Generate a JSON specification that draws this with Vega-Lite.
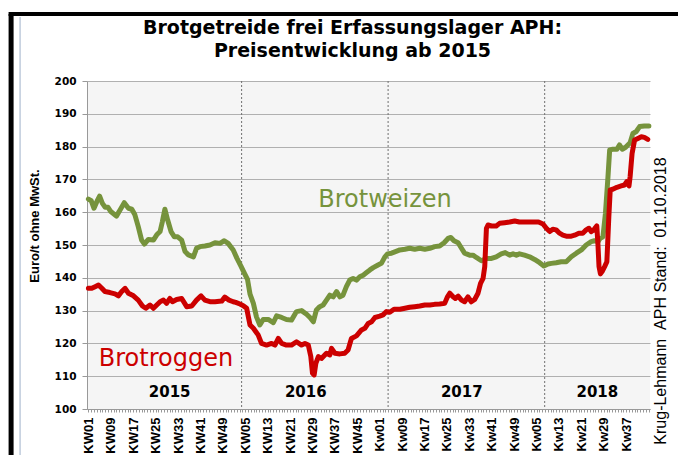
{
"$schema": "https://vega.github.io/schema/vega-lite/v6.json",
"width": 563, "height": 328,
"autosize": {"type": "none"},
"padding": {"left": 87, "top": 81, "right": 28, "bottom": 46},
"background": "#ffffff",
"config": {"view": {"fill": "#f5f5f5", "stroke": null}},
"title": {"text": ["Brotgetreide frei Erfassungslager APH:", "Preisentwicklung ab 2015"], "font": "DejaVu Sans", "fontSize": 19, "fontWeight": "bold", "color": "#000000", "anchor": "middle", "frame": "group", "offset": -49, "lineHeight": 23, "dx": -16},
"datasets": {
"weizen": [{"t":0,"p":164},{"t":1,"p":163.5},{"t":2,"p":161.2},{"t":3,"p":163.2},{"t":4,"p":164.9},{"t":5,"p":162.7},{"t":6,"p":161.5},{"t":7,"p":161.5},{"t":8,"p":160.2},{"t":10,"p":158.8},{"t":11.3,"p":160.7},{"t":12.8,"p":162.9},{"t":14.3,"p":161.2},{"t":15.5,"p":160.9},{"t":16.6,"p":159.2},{"t":17.8,"p":155.6},{"t":19,"p":151.5},{"t":20,"p":150.3},{"t":21.4,"p":151.7},{"t":23.2,"p":151.5},{"t":24.4,"p":153.1},{"t":25.6,"p":154.1},{"t":26.4,"p":157.1},{"t":27.3,"p":160.9},{"t":28.3,"p":157.6},{"t":29.5,"p":154.1},{"t":30.7,"p":152.5},{"t":31.9,"p":152.5},{"t":33.3,"p":151.5},{"t":34.5,"p":148},{"t":35.7,"p":147},{"t":37.5,"p":146.4},{"t":38.6,"p":149},{"t":39.8,"p":149.5},{"t":41.6,"p":149.7},{"t":43.4,"p":150},{"t":45.2,"p":150.7},{"t":47,"p":150.5},{"t":48.5,"p":151.3},{"t":49.9,"p":150.5},{"t":51.7,"p":148.5},{"t":53,"p":146},{"t":54.5,"p":143.5},{"t":55.8,"p":141.2},{"t":56.8,"p":139.5},{"t":57.7,"p":135},{"t":58.9,"p":132.2},{"t":60,"p":128.1},{"t":61.2,"p":125.6},{"t":62.4,"p":127.3},{"t":64.2,"p":127.3},{"t":66,"p":126.3},{"t":67.2,"p":128.4},{"t":69,"p":127.9},{"t":70.7,"p":127.3},{"t":72.5,"p":127.1},{"t":74.3,"p":129.7},{"t":76.1,"p":130},{"t":77.9,"p":128.9},{"t":79.1,"p":127.9},{"t":80.3,"p":126.6},{"t":81.4,"p":130.2},{"t":82.6,"p":131.2},{"t":83.8,"p":131.7},{"t":85,"p":133.2},{"t":86.2,"p":134.7},{"t":87.4,"p":134.2},{"t":88.6,"p":135.8},{"t":89.8,"p":134.2},{"t":90.9,"p":134.7},{"t":92.1,"p":137.3},{"t":93.3,"p":139.3},{"t":94.5,"p":139.8},{"t":95.7,"p":139.3},{"t":96.9,"p":140.3},{"t":98.1,"p":140.8},{"t":99.3,"p":141.6},{"t":100.5,"p":142.4},{"t":101.7,"p":143.1},{"t":103.4,"p":143.9},{"t":104.6,"p":144.4},{"t":105.8,"p":146.3},{"t":106.8,"p":147.3},{"t":108.2,"p":147.5},{"t":109.4,"p":147.9},{"t":111.2,"p":148.5},{"t":113,"p":148.7},{"t":114.7,"p":149},{"t":116.5,"p":148.7},{"t":118.3,"p":149},{"t":120.1,"p":148.7},{"t":121.9,"p":149},{"t":123.6,"p":149.5},{"t":125.4,"p":149.7},{"t":127,"p":150.7},{"t":128.4,"p":152},{"t":129.4,"p":152.3},{"t":130.5,"p":151.3},{"t":132,"p":150.7},{"t":133.2,"p":149},{"t":134.3,"p":147.5},{"t":136.1,"p":146.9},{"t":137.3,"p":146.9},{"t":138.5,"p":146.2},{"t":140.3,"p":145.2},{"t":142.1,"p":145.9},{"t":143.9,"p":145.9},{"t":145.6,"p":146.4},{"t":147.4,"p":147.3},{"t":148.8,"p":147.7},{"t":150.4,"p":146.9},{"t":151.6,"p":147.3},{"t":152.8,"p":146.9},{"t":153.9,"p":147.3},{"t":155.7,"p":146.9},{"t":157.5,"p":146.4},{"t":159.3,"p":145.6},{"t":161.1,"p":144.6},{"t":162.6,"p":143.6},{"t":164.1,"p":144.2},{"t":165.3,"p":144.4},{"t":167,"p":144.6},{"t":168.8,"p":144.9},{"t":170.6,"p":144.9},{"t":172.4,"p":146.4},{"t":174.2,"p":147.5},{"t":176,"p":148.5},{"t":177.7,"p":150},{"t":179.5,"p":151},{"t":180.7,"p":151.3},{"t":181.9,"p":151},{"t":182.7,"p":152},{"t":183.7,"p":152.5},{"t":184.6,"p":159.7},{"t":185.5,"p":170.8},{"t":186.1,"p":179},{"t":187.2,"p":179.2},{"t":188.7,"p":179.2},{"t":189.6,"p":180.5},{"t":190.6,"p":179.2},{"t":191.8,"p":179.8},{"t":192.6,"p":180.5},{"t":193.4,"p":181.2},{"t":194.4,"p":184},{"t":195.6,"p":184.6},{"t":196.8,"p":186.1},{"t":198.5,"p":186.3},{"t":200.1,"p":186.3}],
"roggen": [{"t":0,"p":136.8},{"t":1.2,"p":136.8},{"t":2.4,"p":137.3},{"t":3.6,"p":137.8},{"t":4.8,"p":136.8},{"t":5.9,"p":135.8},{"t":7.7,"p":135.5},{"t":9.5,"p":135.1},{"t":10.7,"p":134.5},{"t":11.9,"p":135.8},{"t":13.1,"p":136.8},{"t":14.3,"p":135.3},{"t":16.1,"p":134.5},{"t":17.8,"p":133.2},{"t":19.3,"p":131.4},{"t":20.5,"p":130.7},{"t":22,"p":131.7},{"t":23.2,"p":130.7},{"t":24.4,"p":131.7},{"t":25.6,"p":132.7},{"t":26.8,"p":133.2},{"t":27.9,"p":132.2},{"t":29.1,"p":133.7},{"t":30,"p":132.7},{"t":31.5,"p":133.4},{"t":33.3,"p":133.7},{"t":35.1,"p":131.2},{"t":36.9,"p":131.4},{"t":38.6,"p":133.2},{"t":40.2,"p":134.5},{"t":41.6,"p":133.2},{"t":43.4,"p":132.7},{"t":45.2,"p":132.7},{"t":47.6,"p":132.9},{"t":48.7,"p":134.1},{"t":50.2,"p":133.2},{"t":51.7,"p":132.7},{"t":52.6,"p":132.5},{"t":54.1,"p":132},{"t":55.3,"p":131.5},{"t":56.5,"p":130.7},{"t":57.1,"p":128.1},{"t":57.7,"p":125.6},{"t":58.9,"p":124.6},{"t":60.6,"p":122.6},{"t":61.8,"p":120},{"t":63.6,"p":119.5},{"t":65.4,"p":120},{"t":66.6,"p":119.5},{"t":67.8,"p":121.5},{"t":69,"p":120},{"t":70.7,"p":119.5},{"t":72.5,"p":119.5},{"t":74.3,"p":120.5},{"t":76.1,"p":119.5},{"t":77.3,"p":120},{"t":78.5,"p":119.5},{"t":79.4,"p":116},{"t":80,"p":110.9},{"t":80.6,"p":110.4},{"t":81.2,"p":113.9},{"t":82.1,"p":116},{"t":83.2,"p":115.4},{"t":85,"p":117},{"t":86.2,"p":116.5},{"t":86.8,"p":118.5},{"t":88,"p":117},{"t":89.8,"p":116.8},{"t":91.5,"p":117},{"t":92.7,"p":118},{"t":93.9,"p":121.5},{"t":95.7,"p":122.3},{"t":97.5,"p":124.1},{"t":98.7,"p":124.6},{"t":99.9,"p":126.1},{"t":101.1,"p":126.6},{"t":102.3,"p":127.9},{"t":104,"p":128.3},{"t":105.2,"p":128.7},{"t":106.4,"p":129.7},{"t":107.6,"p":129.5},{"t":109.1,"p":130.4},{"t":111.2,"p":130.4},{"t":113,"p":130.7},{"t":114.7,"p":131},{"t":116.5,"p":131.2},{"t":118.3,"p":131.4},{"t":120.1,"p":131.7},{"t":121.9,"p":131.7},{"t":123.6,"p":131.9},{"t":125.4,"p":132},{"t":127.2,"p":132.2},{"t":128.2,"p":134.2},{"t":129,"p":135.3},{"t":130.2,"p":134.2},{"t":131,"p":133.7},{"t":132,"p":134.4},{"t":133.2,"p":133.2},{"t":134.3,"p":132.7},{"t":135.5,"p":134.2},{"t":136.7,"p":132.7},{"t":137.9,"p":133.4},{"t":139.1,"p":135.3},{"t":140,"p":138.3},{"t":140.9,"p":139.8},{"t":141.5,"p":143.4},{"t":142.1,"p":155.1},{"t":142.7,"p":156.1},{"t":143.9,"p":155.8},{"t":145.6,"p":155.8},{"t":146.8,"p":156.6},{"t":148.6,"p":156.8},{"t":150.4,"p":157},{"t":152.2,"p":157.3},{"t":153.9,"p":157},{"t":155.7,"p":157},{"t":157.5,"p":157},{"t":159.3,"p":157},{"t":160.7,"p":157},{"t":162.3,"p":156.4},{"t":163.5,"p":155.1},{"t":164.7,"p":154.1},{"t":165.8,"p":154.8},{"t":167,"p":154.6},{"t":168.2,"p":153.6},{"t":169.4,"p":153},{"t":170.6,"p":152.7},{"t":172.4,"p":152.7},{"t":173.6,"p":153},{"t":175.1,"p":153.6},{"t":176.5,"p":153.6},{"t":177.7,"p":154.6},{"t":178.7,"p":155.1},{"t":179.5,"p":154.1},{"t":180.4,"p":154.6},{"t":181.1,"p":155.4},{"t":181.5,"p":155.8},{"t":181.9,"p":150.5},{"t":182.3,"p":143.4},{"t":182.8,"p":141.2},{"t":183.4,"p":141.9},{"t":184.3,"p":143.4},{"t":185.1,"p":144.9},{"t":185.8,"p":158.6},{"t":186.3,"p":166.8},{"t":187.2,"p":167},{"t":188.7,"p":167.6},{"t":190.2,"p":168},{"t":191.4,"p":168.3},{"t":192.2,"p":169.3},{"t":193,"p":168},{"t":193.4,"p":170.8},{"t":194.1,"p":177.9},{"t":195,"p":182},{"t":196.2,"p":182.5},{"t":197.4,"p":183},{"t":198.5,"p":182.8},{"t":199.7,"p":182.2}],
"grenzen": [{"t":54.7},{"t":107},{"t":162.9}],
"jahre": [{"t":29,"jahr":"2015"},{"t":77.6,"jahr":"2016"},{"t":133.3,"jahr":"2017"},{"t":181.7,"jahr":"2018"}],
"sorten": [{"s":"Brotweizen","t":105.9,"p":161.6},{"s":"Brotroggen","t":27.7,"p":113.1}],
"rahmen": [{}]
},
"layer": [
{"data": {"name": "grenzen"}, "mark": {"type": "rule", "color": "#707070", "strokeWidth": 1, "strokeDash": [2, 2]},
 "encoding": {"x": {"field": "t", "type": "quantitative"}}},
{"data": {"name": "weizen"}, "mark": {"type": "line", "color": "#76933c", "strokeWidth": 5, "strokeJoin": "round", "strokeCap": "round"},
 "encoding": {
  "x": {"field": "t", "type": "quantitative", "scale": {"domain": [-0.5, 200.5], "nice": false, "zero": false},
   "axis": {"title": null, "grid": false, "tickCount": 201, "labelOverlap": false, "labelFlush": false, "labelBound": false,
    "labelExpr": "datum.value % 8 == 0 && datum.value <= 192 ? (datum.value < 104 ? 'KW' : 'Kw') + ((datum.value % 52) + 1 < 10 ? '0' : '') + ((datum.value % 52) + 1) : ''",
    "labelAngle": -90, "labelFont": "Liberation Sans", "labelFontWeight": "bold", "labelFontSize": 13, "labelColor": "#000000", "labelPadding": 5,
    "tickSize": 3, "tickColor": "#999999", "domainColor": "#999999"}},
  "y": {"field": "p", "type": "quantitative", "scale": {"domain": [100, 200], "nice": false, "zero": false},
   "axis": {"orient": "left", "values": [100,110,120,130,140,150,160,170,180,190,200], "grid": true, "gridColor": "#b0b0b0",
    "tickSize": 5, "tickColor": "#999999", "domainColor": "#999999", "labelPadding": 6,
    "labelFont": "DejaVu Sans", "labelFontWeight": "bold", "labelFontSize": 10.5, "labelColor": "#000000",
    "title": "Euro/t ohne MwSt.", "titleFont": "Liberation Sans", "titleFontSize": 13, "titleFontWeight": "bold", "titleColor": "#000000",
    "titleAngle": -90, "titleX": -53, "titleY": 144.5, "titleAlign": "center", "titleBaseline": "middle"}}}},
{"data": {"name": "roggen"}, "mark": {"type": "line", "color": "#cc0000", "strokeWidth": 5, "strokeJoin": "round", "strokeCap": "round"},
 "encoding": {"x": {"field": "t", "type": "quantitative"}, "y": {"field": "p", "type": "quantitative", "axis": null}}},
{"data": {"name": "jahre"}, "mark": {"type": "text", "font": "DejaVu Sans", "fontWeight": "bold", "fontSize": 15, "color": "#000000", "align": "center", "baseline": "alphabetic"},
 "encoding": {"x": {"field": "t", "type": "quantitative"}, "y": {"datum": 103.6,
   "axis": {"orient": "right", "labels": false, "ticks": false, "domain": false, "grid": false,
    "title": "Krug-Lehmann\u00a0\u00a0APH Stand:\u00a0\u00a001.10.2018", "titleFont": "Liberation Sans", "titleFontSize": 16, "titleFontWeight": "normal", "titleColor": "#000000",
    "titleAngle": -90, "titleX": 10, "titleY": 219.5, "titleAlign": "center", "titleBaseline": "middle"}},
  "text": {"field": "jahr"}}},
{"data": {"name": "sorten"}, "mark": {"type": "text", "font": "DejaVu Sans", "fontSize": 24, "align": "center", "baseline": "alphabetic"},
 "encoding": {"x": {"field": "t", "type": "quantitative"}, "y": {"field": "p", "type": "quantitative", "axis": null},
  "text": {"field": "s"},
  "color": {"field": "s", "type": "nominal", "scale": {"domain": ["Brotweizen", "Brotroggen"], "range": ["#76933c", "#cc0000"]}, "legend": null}}},
{"data": {"name": "rahmen"}, "mark": {"type": "rule", "color": "#000000", "strokeWidth": 5},
 "encoding": {"x": {"datum": -27.6}, "y": {"datum": 220.4, "axis": null}, "y2": {"datum": 84}}},
{"data": {"name": "rahmen"}, "mark": {"type": "rule", "color": "#000000", "strokeWidth": 4},
 "encoding": {"x": {"datum": -28.5}, "x2": {"datum": 211}, "y": {"datum": 220.4, "axis": null}}},
{"data": {"name": "rahmen"}, "mark": {"type": "rule", "color": "#9db0c8", "strokeWidth": 1},
 "encoding": {"x": {"datum": -24.4}, "y": {"datum": 219.5, "axis": null}, "y2": {"datum": 84}}}
],
"resolve": {"axis": {"y": "independent"}}
}
